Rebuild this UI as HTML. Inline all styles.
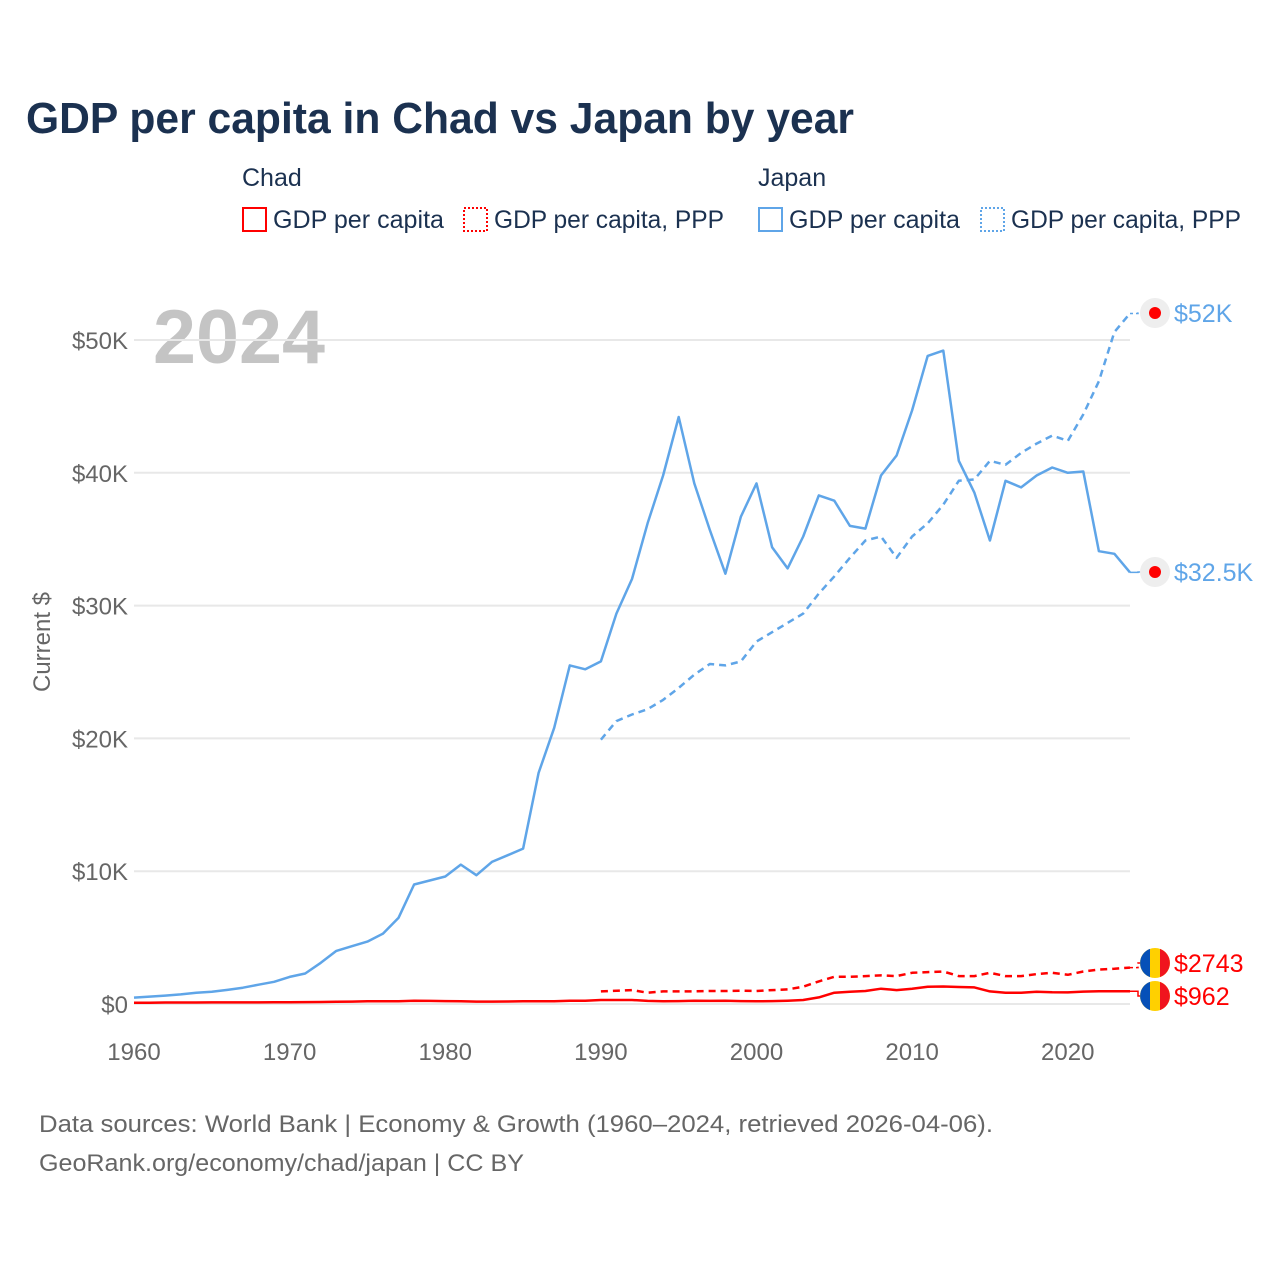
<!DOCTYPE html>
<html><head><meta charset="utf-8"><style>
html,body{margin:0;padding:0;background:#fff;}
body{width:1280px;height:1280px;position:relative;overflow:hidden;font-family:"Liberation Sans",sans-serif;}
</style></head><body>
<svg id="chart" width="1280" height="1280" xmlns="http://www.w3.org/2000/svg" font-family="Liberation Sans, sans-serif">
<text x="26" y="133" font-size="44" font-weight="bold" fill="#1b3150" textLength="828" lengthAdjust="spacingAndGlyphs">GDP per capita in Chad vs Japan by year</text>
<text x="242" y="186" font-size="25" fill="#1b3150">Chad</text>
<text x="758" y="186" font-size="25" fill="#1b3150">Japan</text>
<g><rect x="243" y="208" width="23" height="23" fill="none" stroke="#f00" stroke-width="2"/><text x="273" y="228" font-size="25" fill="#1b3150" textLength="171" lengthAdjust="spacingAndGlyphs">GDP per capita</text></g>
<g><rect x="464" y="208" width="23" height="23" fill="none" stroke="#f00" stroke-width="2" stroke-dasharray="2,2"/><text x="494" y="228" font-size="25" fill="#1b3150" textLength="230" lengthAdjust="spacingAndGlyphs">GDP per capita, PPP</text></g>
<g><rect x="759" y="208" width="23" height="23" fill="none" stroke="#5fa5e8" stroke-width="2"/><text x="789" y="228" font-size="25" fill="#1b3150" textLength="171" lengthAdjust="spacingAndGlyphs">GDP per capita</text></g>
<g><rect x="981" y="208" width="23" height="23" fill="none" stroke="#5fa5e8" stroke-width="2" stroke-dasharray="2,2"/><text x="1011" y="228" font-size="25" fill="#1b3150" textLength="230" lengthAdjust="spacingAndGlyphs">GDP per capita, PPP</text></g>
<text x="153" y="363" font-size="76" font-weight="bold" fill="#c4c4c4" textLength="172" lengthAdjust="spacingAndGlyphs">2024</text>
<text transform="translate(50,642) rotate(-90)" text-anchor="middle" font-size="24" fill="#666">Current $</text>
<g id="grid"></g><g id="series"></g>
<text x="39" y="1132" font-size="24" fill="#666" textLength="954" lengthAdjust="spacingAndGlyphs">Data sources: World Bank | Economy &amp; Growth (1960–2024, retrieved 2026-04-06).</text>
<text x="39" y="1171" font-size="24" fill="#666" textLength="485" lengthAdjust="spacingAndGlyphs">GeoRank.org/economy/chad/japan | CC BY</text>
</svg>
<script>
const yTicks=[0,10,20,30,40,50];
const xTicks=[1960,1970,1980,1990,2000,2010,2020];
const japanGdp=[0.48,0.56,0.63,0.72,0.84,0.92,1.06,1.23,1.45,1.67,2.04,2.3,3.1,4.0,4.35,4.7,5.3,6.5,9.0,9.3,9.6,10.5,9.7,10.7,11.2,11.7,17.4,20.8,25.5,25.2,25.8,29.4,32.0,36.2,39.8,44.2,39.2,35.7,32.4,36.7,39.2,34.4,32.8,35.2,38.3,37.9,36.0,35.8,39.8,41.3,44.7,48.8,49.2,40.9,38.5,34.9,39.4,38.9,39.8,40.4,40.0,40.1,34.1,33.9,32.5];
const japanPpp=[19.9,21.3,21.8,22.2,22.9,23.8,24.8,25.6,25.5,25.8,27.3,28.0,28.7,29.4,30.9,32.2,33.6,34.9,35.2,33.6,35.2,36.2,37.6,39.4,39.5,40.9,40.6,41.5,42.2,42.8,42.4,44.4,46.9,50.6,52.0];
const chadGdp=[0.1,0.1,0.11,0.11,0.11,0.12,0.12,0.12,0.12,0.13,0.13,0.14,0.15,0.17,0.18,0.2,0.2,0.21,0.24,0.23,0.22,0.2,0.18,0.18,0.19,0.2,0.2,0.21,0.24,0.25,0.3,0.3,0.3,0.23,0.2,0.22,0.24,0.23,0.25,0.22,0.2,0.22,0.25,0.3,0.5,0.85,0.92,0.98,1.15,1.05,1.15,1.3,1.32,1.28,1.25,0.95,0.85,0.85,0.92,0.88,0.87,0.93,0.96,0.96,0.962];
const chadPpp=[0.95,1.0,1.05,0.85,0.95,0.95,0.96,0.98,0.98,1.0,0.98,1.05,1.1,1.3,1.7,2.05,2.05,2.1,2.15,2.1,2.35,2.4,2.45,2.1,2.1,2.35,2.1,2.1,2.25,2.35,2.2,2.45,2.6,2.65,2.743];
const X0=134,X1=1130,Y0=1004,PX=13.28;
function xs(y){return X0+(y-1960)*(X1-X0)/64;}
function ys(v){return Y0-v*PX;}
const NS="http://www.w3.org/2000/svg";
function mk(t,a,p){const e=document.createElementNS(NS,t);for(const k in a)e.setAttribute(k,a[k]);p.appendChild(e);return e;}
const grid=document.getElementById('grid'),ser=document.getElementById('series');
yTicks.forEach(v=>{
 const l=mk('line',{x1:X0,x2:X1,y1:ys(v),y2:ys(v),stroke:'#e8e8e8','stroke-width':2},grid);
 
 
 const t=mk('text',{x:128,y:ys(v)+9,'text-anchor':'end','font-size':24,fill:'#666'},grid);
 t.textContent='$'+v+(v?'K':'');
 
 
});
xTicks.forEach(v=>{
 const t=mk('text',{x:xs(v),y:1060,'text-anchor':'middle','font-size':24,fill:'#666'},grid);
 t.textContent=v;
 
 
});
function line(vals,start,color,dash,name){
 const pts=vals.map((v,i)=>xs(start+i).toFixed(1)+','+ys(v).toFixed(1)).join(' ');
 const p=mk('polyline',{points:pts,fill:'none',stroke:color,'stroke-width':2.5,'stroke-dasharray':dash||'none','stroke-linejoin':'round'},ser);
 
 
}
line(japanGdp,1960,'#5fa5e8',null,'japan-gdp-line');
line(japanPpp,1990,'#5fa5e8','7,5','japan-ppp-line');
line(chadGdp,1960,'#f00',null,'chad-gdp-line');
line(chadPpp,1990,'#f00','7,5','chad-ppp-line');
function endLabel(v,ly,color,dash,label,flag,name){
 const x=xs(2024),y=ys(v);
 const c=mk('polyline',{points:`${x},${y} ${x+8},${y} ${x+8},${ly} ${x+14},${ly}`,fill:'none',stroke:color,'stroke-width':1.5,'stroke-dasharray':dash||'none'},ser);
 
 
 const g=mk('g',{},ser);
 
 
 if(flag){
  mk('circle',{cx:1155,cy:ly,r:15,fill:'#ffd000'},g);
  mk('path',{d:`M1150,${ly-14.1} A15,15 0 0 0 1150,${ly+14.1} Z`,fill:'#0650b8'},g);
  mk('path',{d:`M1160,${ly-14.1} A15,15 0 0 1 1160,${ly+14.1} Z`,fill:'#f0141e'},g);
 }else{
  mk('circle',{cx:1155,cy:ly,r:15,fill:'#eeeeee'},g);
  mk('circle',{cx:1155,cy:ly,r:6,fill:'#f00'},g);
 }
 const t=mk('text',{x:1174,y:ly+9,'font-size':25,fill:color},ser);
 t.textContent=label;
 
 
}
endLabel(japanPpp[japanPpp.length-1],313,'#5fa5e8','3,3','$52K',false,'japan-ppp');
endLabel(japanGdp[japanGdp.length-1],572,'#5fa5e8',null,'$32.5K',false,'japan-gdp');
endLabel(chadPpp[chadPpp.length-1],963,'#f00','3,3','$2743',true,'chad-ppp');
endLabel(chadGdp[chadGdp.length-1],996,'#f00',null,'$962',true,'chad-gdp');
</script>
</body></html>
